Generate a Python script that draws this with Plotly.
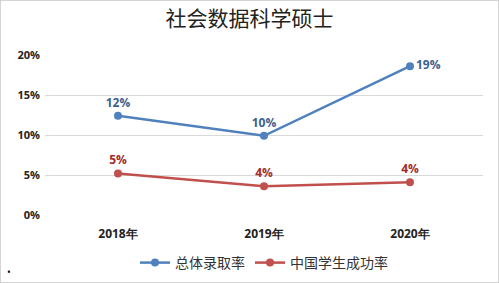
import plotly.graph_objects as go

categories = ["2018年", "2019年", "2020年"]
overall_rate = [0.124, 0.099, 0.186]
overall_labels = ["12%", "10%", "19%"]
china_rate = [0.052, 0.036, 0.041]
china_labels = ["5%", "4%", "4%"]
y_ticks = [0, 0.05, 0.10, 0.15, 0.20]
y_tick_labels = ["0%", "5%", "10%", "15%", "20%"]

fig = go.Figure()
fig.add_trace(go.Scatter(
    x=categories, y=overall_rate, name="总体录取率",
    mode="lines+markers+text",
    line=dict(color="#4f81bd", width=2.5),
    marker=dict(size=8, color="#4f81bd"),
    text=overall_labels,
    textposition=["top center", "top center", "middle right"],
    textfont=dict(color="#3a6191", size=12, family="Open Sans, Arial", weight="bold"),
))
fig.add_trace(go.Scatter(
    x=categories, y=china_rate, name="中国学生成功率",
    mode="lines+markers+text",
    line=dict(color="#c0504d", width=2.5),
    marker=dict(size=8, color="#c0504d"),
    text=china_labels,
    textposition="top center",
    textfont=dict(color="#a52a2a", size=12, family="Open Sans, Arial", weight="bold"),
))

fig.update_layout(
    width=499, height=283,
    margin=dict(l=45, r=16, t=55, b=68, autoexpand=False),
    paper_bgcolor="white", plot_bgcolor="white",
    title=dict(text="社会数据科学硕士", x=0.5, xanchor="center", y=0.935, yanchor="middle",
               font=dict(family="Noto Sans CJK SC", size=21, color="#222")),
    showlegend=True,
    legend=dict(orientation="h", x=0.5, xanchor="center", yref="container",
                y=1 - 263 / 283, yanchor="middle",
                font=dict(family="Noto Sans CJK SC", size=14, color="#333")),
    xaxis=dict(range=[-0.5, 2.5], showgrid=False, showline=False, zeroline=False,
               tickfont=dict(family="Open Sans, Arial", size=12, color="#222", weight="bold"),
               ticks="", ticklabelstandoff=10, automargin=False),
    yaxis=dict(range=[0, 0.20], tickvals=y_ticks, ticktext=y_tick_labels,
               showgrid=True, gridcolor="#d9d9d9", gridwidth=1, zeroline=False,
               tickfont=dict(family="Open Sans, Arial", size=11, color="#222", weight="bold"),
               ticks="", ticklabelstandoff=4, automargin=False),
)
fig.add_shape(type="rect", xref="paper", yref="paper",
              x0=-45/438, x1=1+16/438, y0=-68/160, y1=1+55/160,
              line=dict(color="#c8c8c8", width=1.5))
fig.add_annotation(text="•", xref="paper", yref="paper", x=-40/438, y=-66/160,
                   showarrow=False, font=dict(size=10, color="#000"))
fig.write_html("out.html")
